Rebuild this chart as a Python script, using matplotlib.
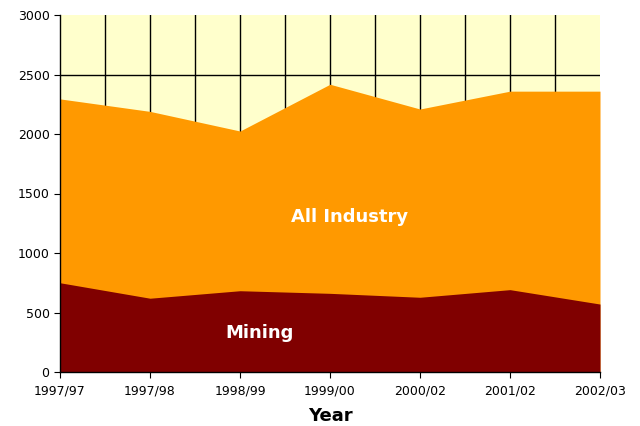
import matplotlib
matplotlib.use("Agg")
import matplotlib.pyplot as plt
import numpy as np

years = ["1997/97", "1997/98", "1998/99", "1999/00", "2000/02", "2001/02", "2002/03"]
all_industry = [2295, 2190, 2025, 2418, 2210, 2360, 2360]
mining = [750, 620, 683, 661, 628, 692, 571]

fig = plt.figure(figsize=(6.4, 4.26), dpi=100)
ax = fig.add_axes([60/640, 1-372/426, 540/640, 357/426])
x = np.arange(len(years))

ax.set_facecolor("#FFFFCC")
for gx in np.arange(0.5, len(years) - 1, 0.5):
    ax.axvline(gx, color="black", linewidth=1, zorder=1)
for gy in range(500, 2501, 500):
    ax.axhline(gy, color="black", linewidth=1, zorder=1)
ax.fill_between(x, 0, all_industry, color="#FF9900", linewidth=0, zorder=2)
ax.fill_between(x, 0, mining, color="#800000", linewidth=0, zorder=3)

ax.set_xlim(0, len(years) - 1)
ax.set_ylim(0, 3000)
ax.set_yticks(range(0, 3001, 500))
ax.set_xticks(x)
ax.set_xticklabels(years)
ax.tick_params(axis="both", which="major", labelsize=9, length=4, color="black",
               direction="out")
ax.tick_params(axis="x", which="major", pad=5)

for s in ["top", "right"]:
    ax.spines[s].set_visible(False)
for s in ["left", "bottom"]:
    ax.spines[s].set_color("black")
    ax.spines[s].set_linewidth(1)
    ax.spines[s].set_zorder(5)

ax.text(3.22, 1300, "All Industry", color="white", fontsize=13, fontweight="bold",
        ha="center", va="center", zorder=6)
ax.text(2.22, 330, "Mining", color="white", fontsize=13, fontweight="bold",
        ha="center", va="center", zorder=6)
ax.set_xlabel("Year", fontsize=13, fontweight="bold", labelpad=7)

fig.savefig("out.png", dpi=100)
